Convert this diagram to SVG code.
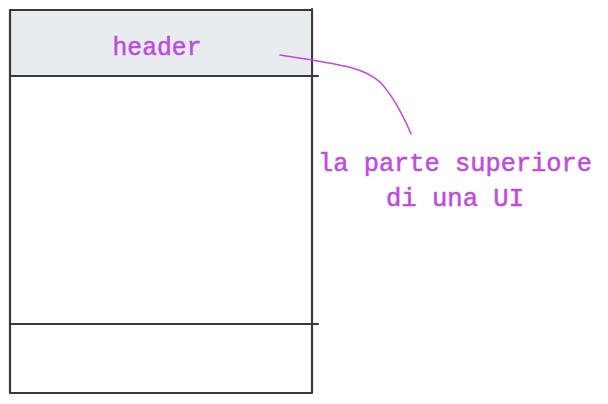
<svg xmlns="http://www.w3.org/2000/svg" width="608" height="404" viewBox="0 0 608 404">
<style>
.ln{fill:none;stroke:#343a40;stroke-width:2.2;stroke-linecap:round;stroke-linejoin:round}
.tx{font-family:"Liberation Mono",monospace;font-size:26px;fill:#be4bdb;stroke:#be4bdb;stroke-width:0.5;text-anchor:middle}
.cn{fill:none;stroke:#be4bdb;stroke-width:1.5;stroke-linecap:round}
</style>
<rect width="608" height="404" fill="#ffffff"/>
<g id="frame">
<rect x="11" y="11" width="299" height="64" fill="#e9ecef"/>
<path class="ln" d="M10 10 L312 10 M10 10 L10 393 L311 393 M312 9 L312 393"/>
</g>
<g id="header">
<path class="ln" d="M10 76 L318 76"/>
<text class="tx" x="157" y="55" textLength="89" lengthAdjust="spacingAndGlyphs">header</text>
</g>
<g id="footer">
<path class="ln" d="M10 324 L318 324"/>
</g>
<g id="connectors">
<path class="cn" d="M280 55 C335 64 362 66 380 82 C394 97 403 115 411 134"/>
</g>
<g id="note">
<text class="tx" x="455" y="171" textLength="274" lengthAdjust="spacingAndGlyphs">la parte superiore</text>
<text class="tx" x="455" y="206" textLength="138" lengthAdjust="spacingAndGlyphs">di una UI</text>
</g>
</svg>
